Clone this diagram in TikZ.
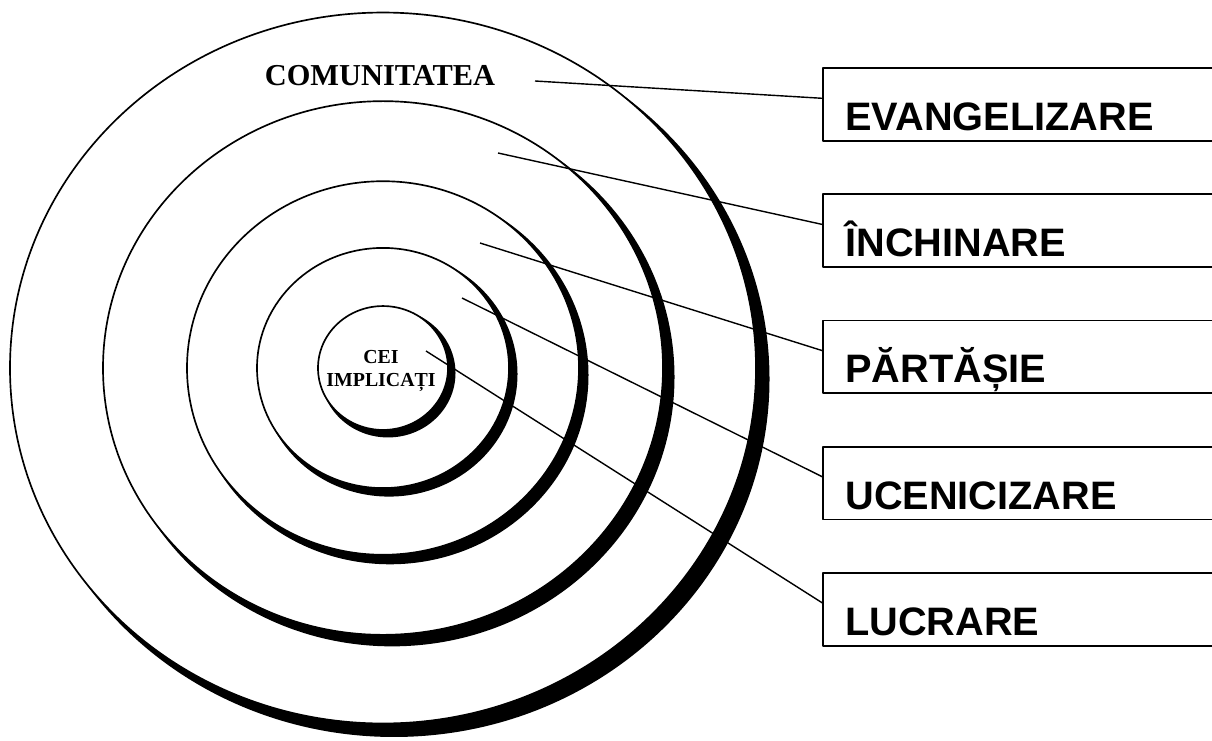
\documentclass[tikz,border=0pt]{standalone}
\usepackage{fontspec}
\setmainfont{Liberation Serif}
\newfontfamily\tagfont{Liberation Sans}
\begin{document}
\begin{tikzpicture}[x=0.02cm, y=-0.02cm, line join=round]
	\useasboundingbox (0,0) rectangle (1212,740);
	\tikzset{
		ringline/.style={line width=0.95pt},
		boxline/.style={line width=1pt},
		link/.style={line width=0.8pt},
		tagbox/.style={anchor=north west, inner ysep=0pt, inner xsep=0.44cm, text width=6.9cm, align=left,
			text height=1.24cm, text depth=0.2cm, font={\tagfont\bfseries\fontsize{22.6}{26}\selectfont}}
	}
	% rings, outer to inner, with the shadow to the lower right
	\foreach \r / \s in {373/11, 280/9, 196/7, 126/6, 65/5} {
		\fill[black] (383+\s, 368+\s) ellipse [x radius=\r+2.5, y radius=0.953*\r+2.5];
		\fill[white] (383, 368) ellipse [x radius=\r, y radius=0.953*\r];
		\draw[ringline] (383, 368) ellipse [x radius=\r, y radius=0.953*\r];
	}
	\node[anchor=base, inner sep=0pt, font={\bfseries\fontsize{17.3}{20}\selectfont}] (comun) at (380, 86) {COMUNITATEA};
	\node[align=center, inner sep=0pt, font={\bfseries\fontsize{11.3}{13}\selectfont}] (implic) at (381, 371) {CEI\\IMPLICAȚI};
	% start points of the links
	\coordinate (c1) at (535, 81);
	\coordinate (c2) at (498, 153);
	\coordinate (c3) at (480, 243);
	\coordinate (c4) at (462, 298);
	\coordinate (c5) at (426, 351);
	% boxes on the right, open at the page edge
	\foreach \i / \name / \txt in {0/evang/EVANGELIZARE, 1/inchin/ÎNCHINARE, 2/partas/PĂRTĂȘIE, 3/ucenic/UCENICIZARE, 4/lucr/LUCRARE} {
		\node[tagbox] (\name) at (823, {68+126.25*\i}) {\txt};
		\draw[boxline] (\name.north east) -- (\name.north west) -- (\name.south west) -- (\name.south east);
	}
	\foreach \c / \name in {c1/evang, c2/inchin, c3/partas, c4/ucenic, c5/lucr} {
		\draw[link] (\c) -- ([yshift=0.12cm]\name.west);
	}
\end{tikzpicture}
\end{document}
